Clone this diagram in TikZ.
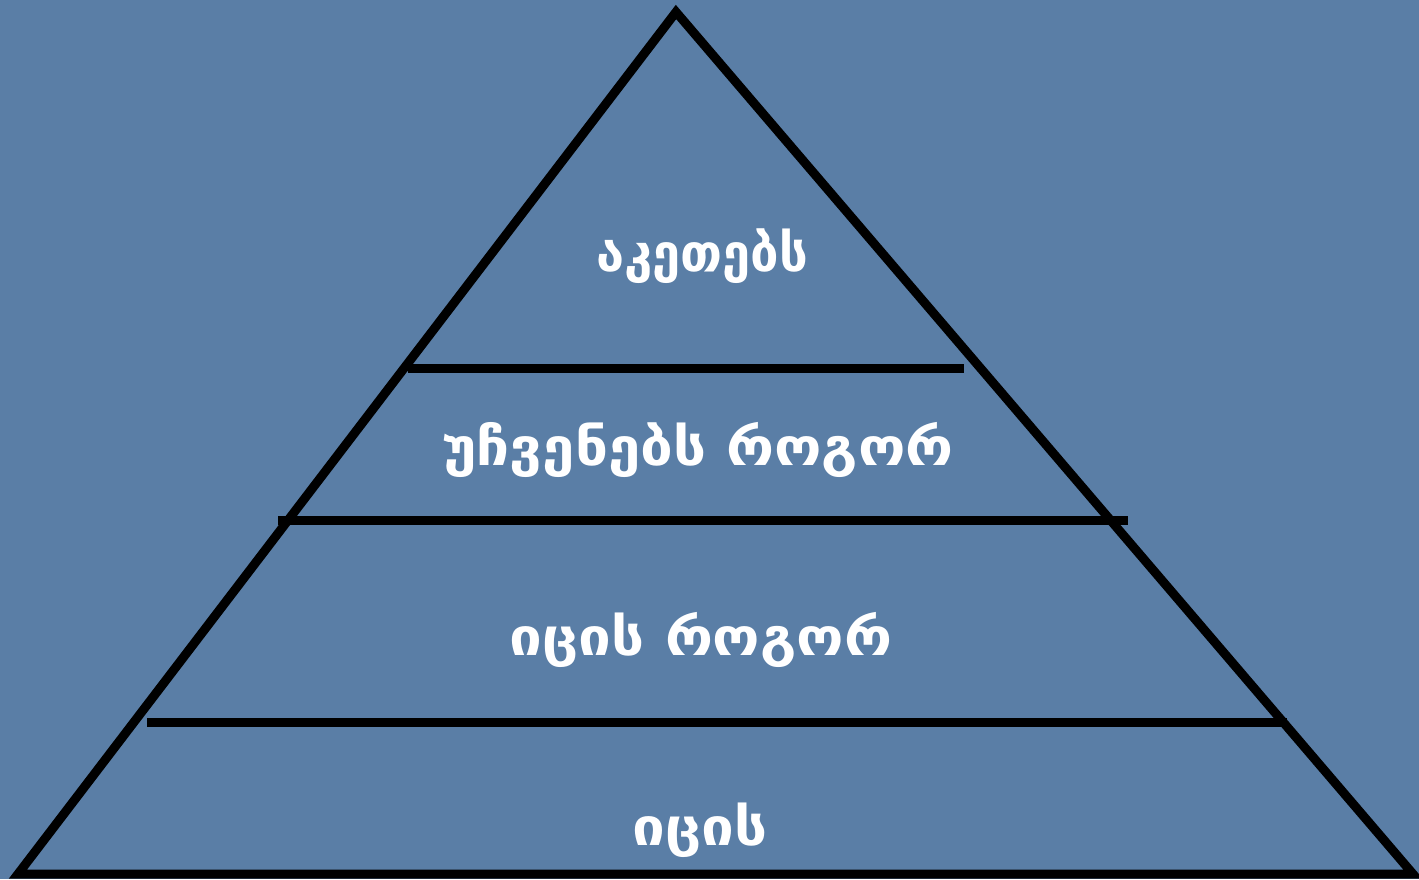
\documentclass[tikz,border=0pt]{standalone}
\usepackage{fontspec}
\newfontfamily\geofont{DejaVu Sans}
\definecolor{bgblue}{RGB}{90,126,166}
\begin{document}
\begin{tikzpicture}[x=1pt,y=-1pt,
  edge/.style={line width=9pt,draw=black,line join=miter},
  level/.style={line width=9pt,draw=black},
  label/.style={text=white,font=\geofont\bfseries\fontsize{52}{56}\selectfont,inner sep=0pt,xscale=1.12}]
\fill[bgblue] (0,0) rectangle (1419,879);
\useasboundingbox (0,0) rectangle (1419,879);
\coordinate (apex) at (676,12);
\coordinate (bl) at (18,874);
\coordinate (br) at (1413,874);
\draw[edge] (bl) -- (apex) -- (br) -- cycle;
\coordinate (l1a) at (408,368); \coordinate (l1b) at (964,368);
\coordinate (l2a) at (278,520); \coordinate (l2b) at (1128,520);
\coordinate (l3a) at (147,722); \coordinate (l3b) at (1287,722);
\draw[level] (l1a) -- (l1b);
\draw[level] (l2a) -- (l2b);
\draw[level] (l3a) -- (l3b);
\node[label,xscale=0.87] (t1) at (702,256) {აკეთებს};
\node[label] (t2) at (698,450) {უჩვენებს როგორ};
\node[label] (t3) at (701,640) {იცის როგორ};
\node[label] (t4) at (700,830) {იცის};
\end{tikzpicture}
\end{document}
